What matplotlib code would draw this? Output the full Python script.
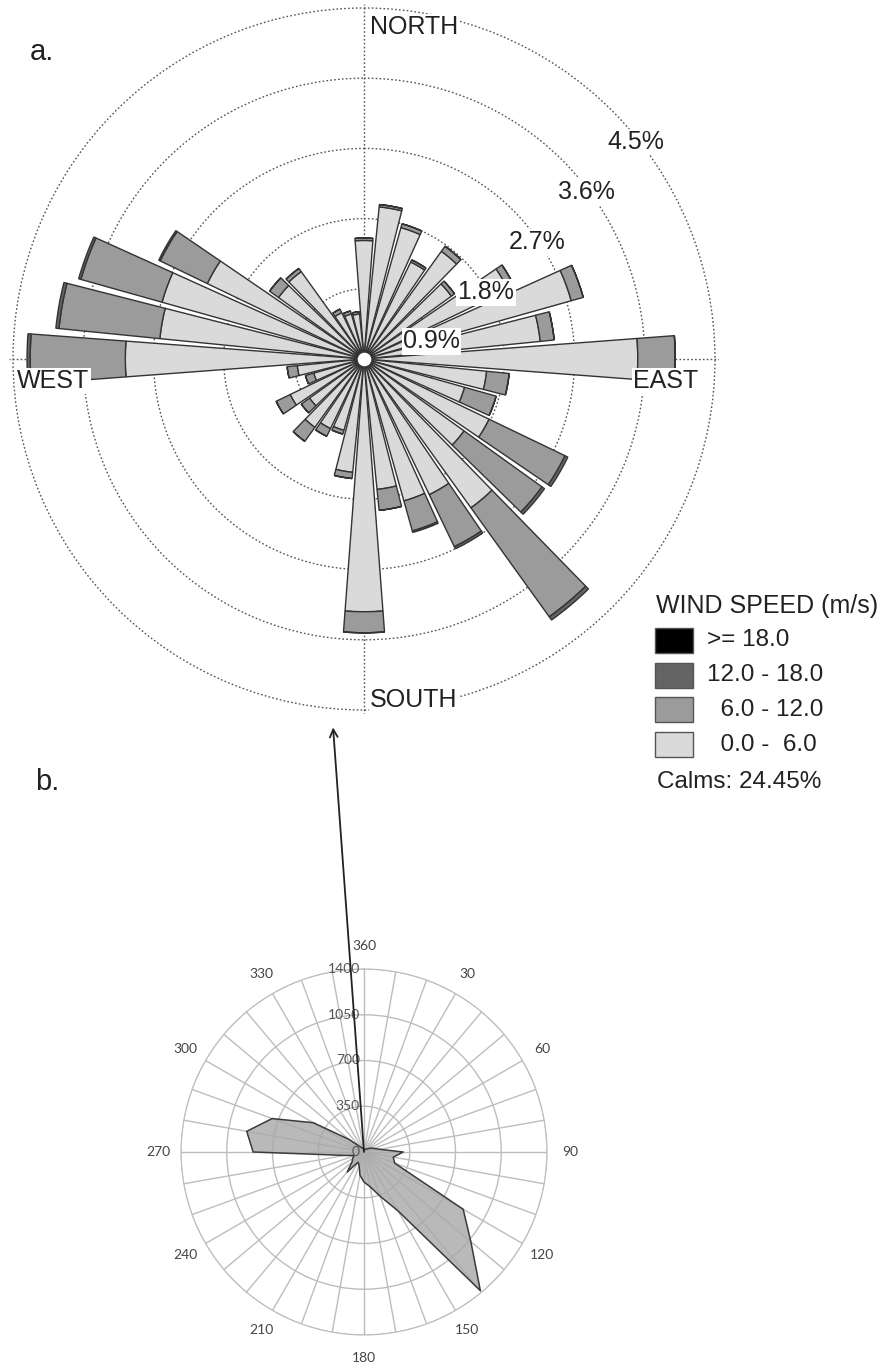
import numpy as np
import matplotlib
matplotlib.use("Agg")
import matplotlib.pyplot as plt
from matplotlib.patches import Rectangle

plt.rcParams['font.family'] = ['Liberation Sans', 'DejaVu Sans']

W, H = 886, 1362

# ---- wind rose data (% of time), sectors every 10 deg from north ----
directions = np.arange(0, 360, 10)
speed_0_6 = np.array([1.52, 1.96, 1.75, 1.38, 1.70, 1.38, 2.05, 2.76, 2.27, 3.51,
                      1.58, 1.34, 1.78, 1.58, 2.35, 1.93, 1.89, 1.68, 3.24, 1.46,
                      0.95, 0.99, 1.08, 0.86, 1.05, 0.67, 0.86, 3.06, 2.63, 2.69,
                      2.23, 1.35, 1.38, 0.66, 0.60, 0.58])
speed_6_12 = np.array([0.03, 0.03, 0.05, 0.03, 0.08, 0.05, 0.09, 0.16, 0.18, 0.48,
                       0.29, 0.42, 1.08, 1.23, 1.72, 0.74, 0.40, 0.27, 0.27, 0.08,
                       0.05, 0.11, 0.22, 0.13, 0.20, 0.11, 0.13, 1.22, 1.30, 1.08,
                       0.67, 0.14, 0.05, 0.05, 0.04, 0.03])
speed_12_18 = np.array([0, 0, 0, 0, 0, 0, 0, 0, 0, 0,
                        0, 0, 0.04, 0.04, 0.05, 0.03, 0.02, 0, 0, 0,
                        0, 0, 0, 0, 0, 0, 0, 0.04, 0.04, 0.03,
                        0.02, 0, 0, 0, 0, 0])
speed_18 = np.zeros(36)
speed_labels = [">= 18.0", "12.0 - 18.0", "  6.0 - 12.0", "  0.0 -  6.0"]
speed_colors = ["#000000", "#646464", "#9b9b9b", "#dadada"]
ring_values = [0.9, 1.8, 2.7, 3.6, 4.5]
calms = 24.45

# ---- radar chart data (counts per direction) ----
radar_angles = np.arange(0, 360, 10)
radar_counts = [20, 15, 20, 25, 30, 40, 60, 80, 120, 300,
                227, 250, 876, 1067, 1385, 520, 360, 270, 230, 180,
                110, 90, 200, 120, 100, 80, 150, 848, 911, 748,
                448, 150, 60, 40, 30, 25]
radar_rings = [350, 700, 1050, 1400]


def fx(x):
    return x / W


def fy(y):
    return 1 - y / H


fig = plt.figure(figsize=(W / 100, H / 100), dpi=100)
fig.patch.set_facecolor("white")

# ================= a. wind rose =================
cx, cy, R = 364, 359, 351
RMAX = 4.55
Rax = R * RMAX / 4.5
ax1 = fig.add_axes([fx(cx - Rax), fy(cy + Rax), 2 * Rax / W, 2 * Rax / H],
                   projection="polar")
ax1.set_theta_zero_location("N")
ax1.set_theta_direction(-1)
ax1.set_ylim(0, RMAX)
ax1.spines["polar"].set_visible(False)
ax1.set_facecolor("none")

theta = np.deg2rad(directions)
stack = [speed_0_6, speed_6_12, speed_12_18, speed_18]
cols = speed_colors[::-1]
bottom = np.zeros(36)
for vals, col in zip(stack, cols):
    if vals.sum() > 0:
        ax1.bar(theta, vals, width=np.deg2rad(8.6), bottom=bottom, color=col,
                edgecolor="#333333", linewidth=1.0, zorder=3)
    bottom = bottom + vals
ax1.plot([0], [0], "o", ms=11, mfc="white", mec="#333333", mew=1.2, zorder=5)

ax1.set_rgrids(ring_values, labels=[])
ax1.set_thetagrids([0, 90, 180, 270], labels=[])
ax1.grid(True, color="#555555", linestyle=(0, (1.2, 1.6)), linewidth=1.0)
ax1.tick_params(length=0)

# ring labels, placed along the upper-right diagonal
label_bearing = [75.4, 61.4, 56.0, 53.0, 51.4]
for rv, b in zip(ring_values, label_bearing):
    ax1.text(np.deg2rad(b), rv * 0.99, f"{rv}%", fontsize=18, color="#222222",
             ha="center", va="center", zorder=6,
             bbox=dict(boxstyle="square,pad=0.05", fc="white", ec="none"))

lab_kw = dict(fontsize=18, color="#222222", zorder=6,
              bbox=dict(boxstyle="square,pad=0.05", fc="white", ec="none"))
fig.text(fx(370), fy(27), "NORTH", ha="left", va="center", **lab_kw)
fig.text(fx(17), fy(381), "WEST", ha="left", va="center", **lab_kw)
fig.text(fx(698), fy(381), "EAST", ha="right", va="center", **lab_kw)
fig.text(fx(370), fy(700), "SOUTH", ha="left", va="center", **lab_kw)

fig.text(fx(30), fy(52), "a.", fontsize=21, ha="left", va="center", color="#222222")
fig.text(fx(35), fy(782), "b.", fontsize=21, ha="left", va="center", color="#222222")

# legend
fig.text(fx(656), fy(606), "WIND SPEED (m/s)", fontsize=18, ha="left",
         va="center", color="#222222")
for i, (lab, col) in enumerate(zip(speed_labels, speed_colors)):
    ytop = 628 + i * 34.7
    fig.add_artist(Rectangle((fx(655), fy(ytop + 25)), 38 / W, 25 / H,
                             transform=fig.transFigure, facecolor=col,
                             edgecolor="#555555", linewidth=1.0))
    fig.text(fx(707), fy(ytop + 12.5), lab, fontsize=17.5, ha="left",
             va="center", color="#222222")
fig.text(fx(657), fy(782), f"Calms: {calms}%", fontsize=17.5, ha="left",
         va="center", color="#222222")

# ================= b. radar chart =================
bx, by, br = 364, 1152, 183
ax2 = fig.add_axes([fx(bx - br), fy(by + br), 2 * br / W, 2 * br / H],
                   projection="polar")
ax2.set_theta_zero_location("N")
ax2.set_theta_direction(-1)
ax2.set_ylim(0, 1400)
ax2.set_facecolor("none")

rt = np.deg2rad(list(radar_angles) + [radar_angles[0]])
rc = list(radar_counts) + [radar_counts[0]]
ax2.fill(rt, rc, facecolor="#a8a8a8", alpha=0.8, zorder=2)
ax2.plot(rt, rc, color="#3a3a3a", linewidth=1.1, zorder=3)

ax2.set_xticks(np.deg2rad(radar_angles))
ax2.set_xticklabels([("360" if a == 0 else str(a)) if a % 30 == 0 else ""
                     for a in radar_angles],
                    fontsize=10, color="#444444", family=["Lato", "DejaVu Sans"])
ax2.set_yticks(radar_rings)
ax2.set_yticklabels([])
ax2.grid(True, color="#bdbdbd", linewidth=1.0)
ax2.spines["polar"].set_color("#bdbdbd")
ax2.tick_params(axis="x", pad=6)
for rv in [0] + radar_rings:
    ax2.annotate(str(rv), xy=(0, rv), xytext=(-3, 0), textcoords="offset points",
                 ha="right", va="center", fontsize=10, color="#555555",
                 family=["Lato", "DejaVu Sans"], zorder=4)

# arrow linking the radar origin to the rose
ax2.annotate("", xy=(np.deg2rad(184.8), 4.74), xycoords=ax1.transData,
             xytext=(0, 0), textcoords="data", annotation_clip=False,
             arrowprops=dict(arrowstyle="->", color="#222222", lw=1.3,
                             shrinkA=0, shrinkB=0, mutation_scale=14),
             zorder=6)

fig.savefig("out.png", dpi=100, facecolor="white")
